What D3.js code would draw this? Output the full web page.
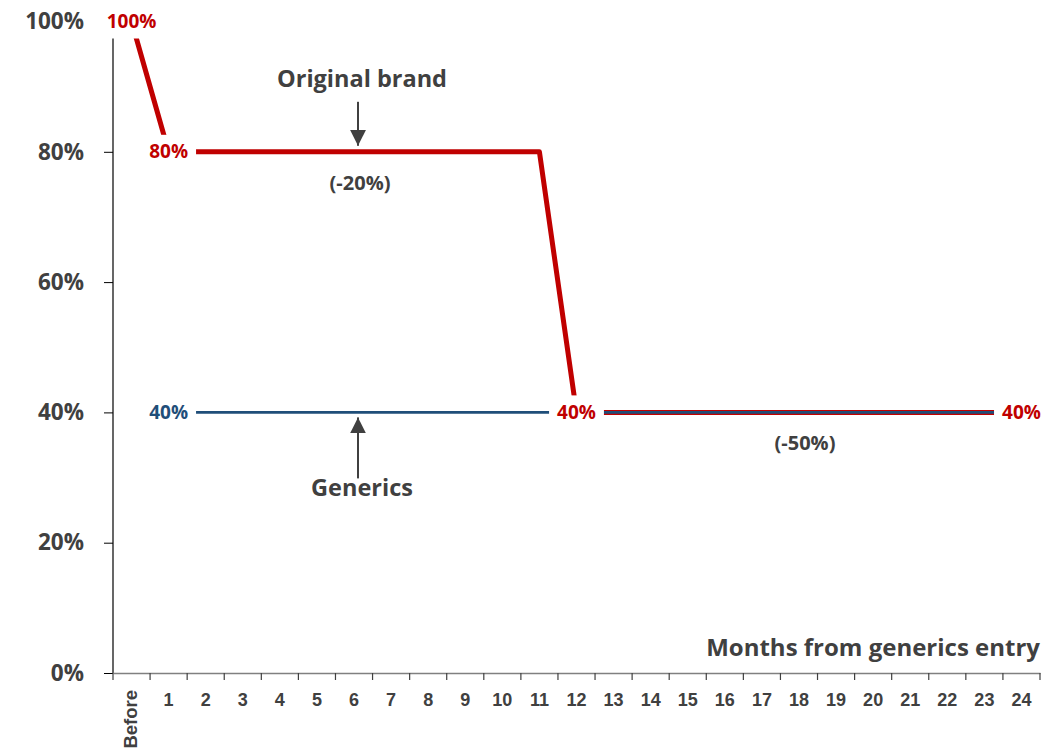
<!DOCTYPE html>
<html><head><meta charset="utf-8">
<script src="https://cdn.jsdelivr.net/npm/d3@7"></script>
<style>body{margin:0;background:#fff;} svg{display:block;}</style>
</head><body>
<svg id="c" width="1063" height="754"></svg>
<script>
const categories = ["Before","1","2","3","4","5","6","7","8","9","10","11","12","13","14","15","16","17","18","19","20","21","22","23","24"];
const brandValues = [1.0,0.8,0.8,0.8,0.8,0.8,0.8,0.8,0.8,0.8,0.8,0.8,0.4,0.4,0.4,0.4,0.4,0.4,0.4,0.4,0.4,0.4,0.4,0.4,0.4];
const genericValues = [null,0.4,0.4,0.4,0.4,0.4,0.4,0.4,0.4,0.4,0.4,0.4,0.4,0.4,0.4,0.4,0.4,0.4,0.4,0.4,0.4,0.4,0.4,0.4,0.4];
const yTicks = [0,0.2,0.4,0.6,0.8,1.0];
const brandLabels = [{cat:"Before",v:1.0,t:"100%"},{cat:"1",v:0.8,t:"80%"},{cat:"12",v:0.4,t:"40%"},{cat:"24",v:0.4,t:"40%"}];
const genericLabels = [{cat:"1",v:0.4,t:"40%"}];
const annotations = [
  {text:"Original brand", cat:"6", v:0.8, dir:"down"},
  {text:"Generics", cat:"6", v:0.4, dir:"up"}
];
const changeLabels = [{text:"(-20%)", cat:"6", v:0.8},{text:"(-50%)", cat:"18", v:0.4}];

const RED="#C00000", BLUE="#1F4E79", GREY="#404040";
const FONT="'Open Sans', Lato, sans-serif";
const svg=d3.select("#c");
const x=d3.scaleBand().domain(categories).range([113,1040]);
const y=d3.scaleLinear().domain([0,1]).range([673,21.5]);
const cx=c=>x(c)+x.bandwidth()/2;

// y axis
const ya=svg.append("g").attr("transform","translate(113,0)")
  .call(d3.axisLeft(y).tickValues(yTicks).tickFormat(d3.format(".0%")).tickSize(9).tickPadding(20));
ya.select(".domain").attr("stroke","#000").attr("stroke-width",1.2).attr("d","M0,673V21.5");
ya.selectAll(".tick line").attr("stroke","#000");
ya.selectAll("text").attr("font-family",FONT).attr("font-weight","bold").attr("font-size",22.5).attr("fill",GREY);

// x axis
const xa=svg.append("g").attr("transform","translate(0,673)")
  .call(d3.axisBottom(x).tickSize(0).tickPadding(20));
xa.select(".domain").attr("stroke","#808080").attr("stroke-width",1.5);
xa.selectAll("text").attr("font-family","'Liberation Sans', Arial, sans-serif").attr("font-weight","bold").attr("font-size",18).attr("fill",GREY);
xa.selectAll(".tick").filter(d=>d==="Before").select("text")
  .attr("transform","rotate(-90)").attr("text-anchor","end").attr("dy","0.35em").attr("x",-17).attr("y",-1).attr("font-size",18.5);
// boundary ticks
const bounds=categories.map(c=>x(c)).concat([x.range()[1]]);
xa.selectAll(".btick").data(bounds).enter().append("line").attr("class","btick")
  .attr("x1",d=>d).attr("x2",d=>d).attr("y1",0).attr("y2",7).attr("stroke","#404040").attr("stroke-width",1.2);

// lines
const line=d3.line().defined(d=>d.v!=null).x(d=>cx(d.c)).y(d=>y(d.v));
svg.append("path").datum(categories.map((c,i)=>({c,v:brandValues[i]})))
  .attr("d",line).attr("fill","none").attr("stroke",RED).attr("stroke-width",5).attr("stroke-linejoin","round");
svg.append("path").datum(categories.map((c,i)=>({c,v:genericValues[i]})))
  .attr("d",line).attr("fill","none").attr("stroke",BLUE).attr("stroke-width",2.8);

// data labels with white background
function dataLabel(d,color){
  const g=svg.append("g").attr("transform",`translate(${cx(d.cat)},${y(d.v)})`);
  const t=g.append("text").text(d.t).attr("text-anchor","middle").attr("dy","0.35em")
    .attr("font-family",FONT).attr("font-weight","bold").attr("font-size",19).attr("fill",color);
  const w=t.node().getComputedTextLength();
  g.insert("rect","text").attr("x",-w/2-8).attr("y",-17).attr("width",w+16).attr("height",34).attr("fill","#fff");
}
brandLabels.forEach(d=>dataLabel(d,RED));
genericLabels.forEach(d=>dataLabel(d,BLUE));

// annotations
svg.append("defs").append("marker").attr("id","ah").attr("viewBox","0 0 10 10").attr("refX",10).attr("refY",5)
  .attr("markerWidth",16).attr("markerHeight",16).attr("markerUnits","userSpaceOnUse").attr("orient","auto")
  .append("path").attr("d","M0,0L10,5L0,10Z").attr("fill",GREY);
annotations.forEach(a=>{
  const ax=cx(a.cat)+4, py=y(a.v);
  if(a.dir==="down"){
    svg.append("line").attr("x1",ax).attr("x2",ax).attr("y1",py-50).attr("y2",py-6).attr("stroke",GREY).attr("stroke-width",2).attr("marker-end","url(#ah)");
    svg.append("text").text(a.text).attr("x",ax+4).attr("y",py-65).attr("text-anchor","middle")
      .attr("font-family",FONT).attr("font-weight","bold").attr("font-size",23.5).attr("fill",GREY);
  } else {
    svg.append("line").attr("x1",ax).attr("x2",ax).attr("y1",py+66).attr("y2",py+5).attr("stroke",GREY).attr("stroke-width",2).attr("marker-end","url(#ah)");
    svg.append("text").text(a.text).attr("x",ax+4).attr("y",py+84).attr("text-anchor","middle")
      .attr("font-family",FONT).attr("font-weight","bold").attr("font-size",23.5).attr("fill",GREY);
  }
});
changeLabels.forEach(a=>{
  svg.append("text").text(a.text).attr("x",cx(a.cat)+6).attr("y",y(a.v)+38).attr("text-anchor","middle")
    .attr("font-family",FONT).attr("font-weight","bold").attr("font-size",20).attr("fill",GREY);
});

// axis title
svg.append("text").text("Months from generics entry").attr("x",1040).attr("y",656).attr("text-anchor","end")
  .attr("font-family",FONT).attr("font-weight","bold").attr("font-size",24).attr("fill",GREY);
</script>
</body></html>
